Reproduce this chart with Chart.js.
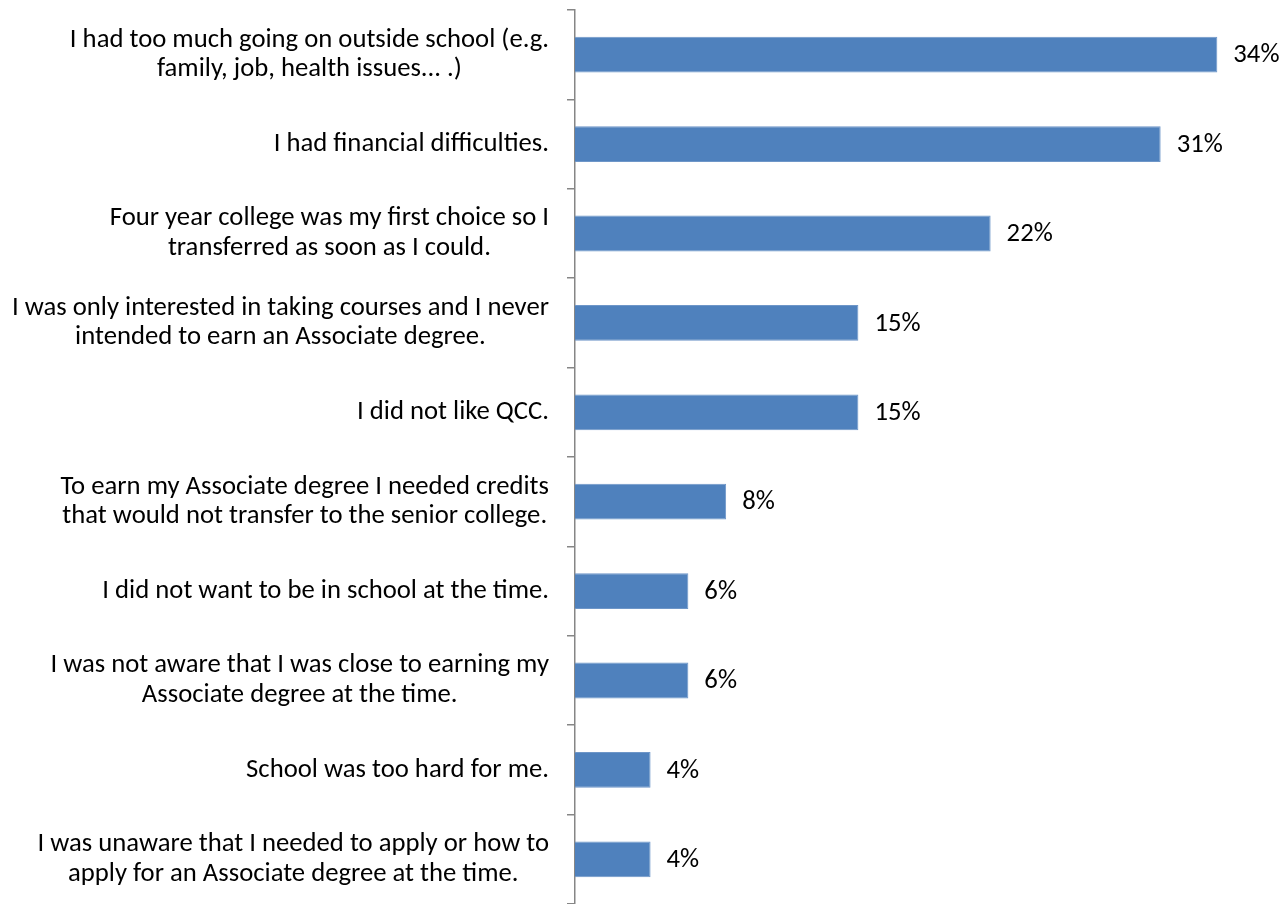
<!DOCTYPE html>
<html>
<head>
<meta charset="utf-8">
<script src="https://cdn.jsdelivr.net/npm/chart.js@4"></script>
<style>
  html, body { margin: 0; padding: 0; background: #fff; }
  #wrap { width: 1286px; height: 904px; }
</style>
</head>
<body>
<div id="wrap"><canvas id="reasonsChart"></canvas></div>
<script>
const reasons = [
    ['I had too much going on outside school (e.g.', 'family, job, health issues... .)'],
    ['I had financial difficulties.'],
    ['Four year college was my first choice so I', 'transferred as soon as I could.'],
    ['I was only interested in taking courses and I never', 'intended to earn an Associate degree.'],
    ['I did not like QCC.'],
    ['To earn my Associate degree I needed credits', 'that would not transfer to the senior college.'],
    ['I did not want to be in school at the time.'],
    ['I was not aware that I was close to earning my', 'Associate degree at the time.'],
    ['School was too hard for me.'],
    ['I was unaware that I needed to apply or how to', 'apply for an Associate degree at the time.']
];
const percents = [34, 31, 22, 15, 15, 8, 6, 6, 4, 4];

const FONT = '26.7px "Carlito", "Open Sans", sans-serif';
const LINE_HEIGHT = 29.5;

// category labels: block right-aligned against the axis, lines centred in the block
const reasonLabels = {
    id: 'reasonLabels',
    afterDraw(chart) {
        const ctx = chart.ctx;
        const y = chart.scales.y;
        const right = chart.chartArea.left - 26;
        ctx.save();
        ctx.font = FONT;
        ctx.fillStyle = '#000';
        ctx.textBaseline = 'middle';
        ctx.textAlign = 'center';
        reasons.forEach((lines, i) => {
            const widest = Math.max(...lines.map(l => ctx.measureText(l).width));
            const cx = right - widest / 2;
            const cy = y.getPixelForTick(i);
            const top = cy - (lines.length - 1) * LINE_HEIGHT / 2;
            lines.forEach((l, j) => ctx.fillText(l, cx, top + j * LINE_HEIGHT));
        });
        ctx.restore();
    }
};

// percentage next to each bar end
const valueLabels = {
    id: 'valueLabels',
    afterDatasetsDraw(chart) {
        const ctx = chart.ctx;
        const meta = chart.getDatasetMeta(0);
        ctx.save();
        ctx.font = FONT;
        ctx.fillStyle = '#000';
        ctx.textBaseline = 'middle';
        ctx.textAlign = 'left';
        meta.data.forEach((bar, i) => {
            ctx.fillText(percents[i] + '%', bar.x + 16, bar.y + 1);
        });
        ctx.restore();
    }
};

new Chart(document.getElementById('reasonsChart'), {
    type: 'bar',
    data: {
        labels: reasons,
        datasets: [{
            data: percents,
            backgroundColor: '#4F81BD',
            borderColor: '#6E96C8',
            borderWidth: 1,
            borderSkipped: 'left',
            categoryPercentage: 1,
            barPercentage: 0.4
        }]
    },
    options: {
        indexAxis: 'y',
        responsive: true,
        maintainAspectRatio: false,
        animation: false,
        layout: { padding: { left: 567, top: 10, right: 12, bottom: 0 } },
        scales: {
            x: {
                display: false,
                min: 0,
                max: 37
            },
            y: {
                offset: true,
                grid: {
                    offset: true,
                    drawOnChartArea: false,
                    drawTicks: true,
                    tickLength: 8,
                    color: '#868686',
                    lineWidth: 1.5
                },
                border: { color: '#868686', width: 1.5 },
                ticks: { display: false }
            }
        },
        plugins: {
            legend: { display: false },
            tooltip: { enabled: false }
        }
    },
    plugins: [reasonLabels, valueLabels]
});
</script>
</body>
</html>
